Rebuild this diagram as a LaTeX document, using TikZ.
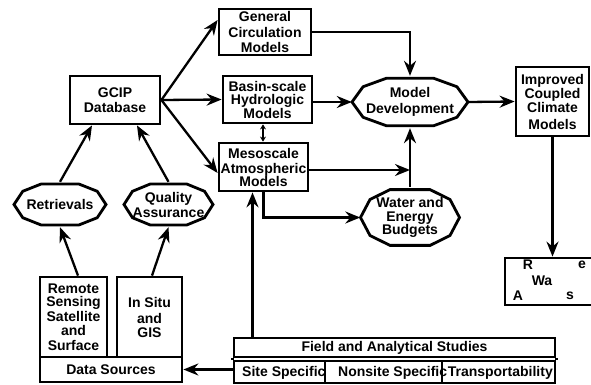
\documentclass[tikz,border=0pt]{standalone}
\usepackage{fontspec}
\setmainfont{Liberation Sans}
\usetikzlibrary{arrows.meta,calc}
\newcommand\octdraw[3]{\draw[edge] ([shift={(0:#2pt and #3pt)}]#1.center) \foreach \a in {36,66,114,144,180,216,246,294,324}{ -- ([shift={(\a:#2pt and #3pt)}]#1.center)} -- cycle;}
\begin{document}
\begin{tikzpicture}[x=1pt,y=-1pt,
  lbl/.style={font=\fontsize{14}{15}\selectfont\bfseries, align=center, inner sep=0pt},
  box/.style={lbl, draw, line width=2.8pt, rectangle},
  blob/.style={lbl, rectangle},
  edge/.style={line width=2.8pt},
  arr/.style={line width=2.3pt, -{Stealth[length=15pt,width=12pt,inset=5pt]}},
  sarr/.style={line width=1.6pt, {Stealth[length=5pt,width=6pt]}-{Stealth[length=5pt,width=6pt]}}]
\useasboundingbox (0,0) rectangle (591,385);
\fill[white] (0,0) rectangle (591,385);

% boxes
\node[box,minimum width=90pt,minimum height=48pt] (gcip) at (115,100) {GCIP\\Database};
\node[box,minimum width=92pt,minimum height=46pt] (gcm) at (265,32) {General\\[0.5pt]Circulation\\[0.5pt]Models};
\node[box,minimum width=89pt,minimum height=47pt] (basin) at (267.5,99.5) {Basin-scale\\[-1.5pt]Hydrologic\\[-1.5pt]Models};
\node[box,minimum width=89pt,minimum height=48pt] (mes) at (263.5,167) {Mesoscale\\Atmospheric\\[-2pt]Models};
\node[box,minimum width=73pt,minimum height=69pt] (imp) at (552.5,101.5) {Improved\\[-1pt]Coupled\\[-1pt]Climate\\[2pt]Models};
\node[box,minimum width=67pt,minimum height=80pt] (rs) at (73.5,317) {Remote\\[-1.5pt]Sensing\\Satellite\\[-1pt]and\\Surface};
\node[box,minimum width=65pt,minimum height=80pt] (ins) at (149.5,317) {In Situ\\[1pt]and\\[-1pt]GIS};
\node[box,minimum width=142pt,minimum height=25pt] (ds) at (111,369.5) {Data Sources};
\node[box,minimum width=95pt,minimum height=47pt] (rwa) at (552.5,281.5) {};

% octagonal blobs
\node[blob,minimum width=116pt,minimum height=52pt] (md) at (410,102) {Model\\[1pt]Development};
\octdraw{md}{58}{26}
\node[blob,minimum width=99pt,minimum height=61pt] (web) at (410,217.5) {Water and\\[-1pt]Energy\\[-2pt]Budgets};
\octdraw{web}{49.5}{30.5}
\node[blob,minimum width=92pt,minimum height=45pt] (ret) at (60,204.5) {Retrievals};
\octdraw{ret}{46}{22.5}
\node[blob,minimum width=89pt,minimum height=45pt] (qa) at (168.5,204.5) {Quality\\Assurance};
\octdraw{qa}{44.5}{22.5}

% clipped texts of the lower right box
\node[lbl] (r1) at (528,265) {R};
\node[lbl] (r2) at (582,265) {e};
\node[lbl] (r3) at (542,281) {Wa};
\node[lbl] (r4) at (518,296) {A};
\node[lbl] (r5) at (570,296) {s};

% field and analytical studies table
\node[lbl,anchor=west] (sitet) at (242,372.5) {Site Specific};
\node[lbl,anchor=west] (nont) at (338,372.5) {Nonsite Specific};
\node[lbl,anchor=east] (trt) at (553,372.5) {Transportability};
\node[box,minimum width=321pt,minimum height=19pt] (fa) at (394.5,347.5) {Field and Analytical Studies};
\node[box,minimum width=91pt,minimum height=22pt] (site) at (279.5,372) {};
\node[box,minimum width=117pt,minimum height=22pt] (nonsite) at (383.5,372) {};
\node[box,minimum width=113pt,minimum height=22pt] (trans) at (498.5,372) {};
\draw[edge] (fa.south west) -- (site.north west);
\draw[edge] (fa.south east) -- (trans.north east);

% connectors
\draw[arr] (gcip.east) -- ([yshift=12pt]gcm.west);
\draw[arr] (gcip.east) -- (basin.west);
\draw[arr] (gcip.east) -- ([yshift=-6pt]mes.west);
\draw[arr] (gcm.east) -| (md.north);
\draw[arr] (basin.east |- md.west) -- (md.west);
\draw[arr] ([yshift=-3pt]mes.east) -- ([yshift=-3pt]mes.east -| md.south);
\draw[arr] (web.north) -- (md.south);
\draw[arr] (mes.south) |- (web.west);
\draw[sarr] (mes.north -| 263,0) -- (basin.south -| 263,0);
\draw[arr] (md.east) -- (imp.west);
\draw[arr] (imp.south) -- (rwa.north);
\draw[arr] (ret.north) -- ([xshift=-23pt]gcip.south);
\draw[arr] (qa.north) -- ([xshift=22pt]gcip.south);
\draw[arr] ([xshift=4.5pt]rs.north) -- (ret.south);
\draw[arr] ([xshift=2.5pt]ins.north) -- (qa.south);
\coordinate (fm) at ([xshift=-11pt]mes.south);
\draw[arr] (fm |- fa.north) -- (fm);
\draw[arr] (ds.east -| site.west) -- (ds.east);
\end{tikzpicture}
\end{document}
